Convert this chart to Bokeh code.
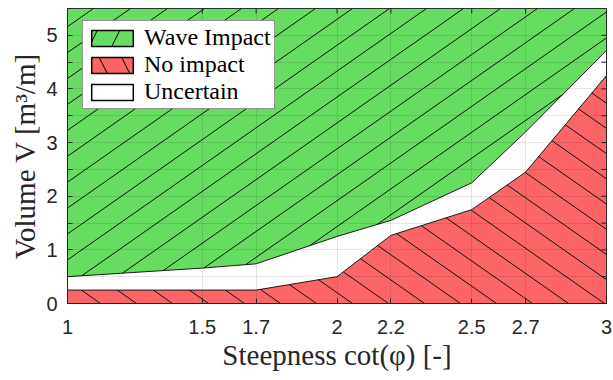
import math
import numpy as np
from bokeh.plotting import figure
from bokeh.models import FixedTicker, Range1d, Legend, LegendItem
from bokeh.embed import file_html
from bokeh.resources import INLINE

# ---------------- data ----------------
steepness = [1.0, 1.5, 1.7, 2.0, 2.2, 2.5, 2.7, 3.0]
impact_lower = [0.50, 0.66, 0.74, 1.25, 1.55, 2.25, 3.20, 4.72]     # lower edge of "Wave Impact"
noimpact_upper = [0.25, 0.25, 0.25, 0.50, 1.27, 1.75, 2.45, 4.25]   # upper edge of "No impact"
v_max = 5.5
x_ticks = [1.0, 1.5, 1.7, 2.0, 2.2, 2.5, 2.7, 3.0]
x_tick_labels = ["1", "1.5", "1.7", "2", "2.2", "2.5", "2.7", "3"]
y_ticks = [0, 1, 2, 3, 4, 5]
y_tick_labels = ["0", "1", "2", "3", "4", "5"]
y_minor_ticks = [0.5, 1.5, 2.5, 3.5, 4.5, 5.5]
series_names = ["Wave Impact", "No impact", "Uncertain"]

GREEN = "#66dc60"
RED = "#fc6565"
DARK = "#262626"
SERIF = "Liberation Serif"
SANS = "Liberation Sans"

W, H = 613, 380
BL, BR, BT, BB = 67, 7, 8, 77
FW, FH = W - BL - BR, H - BT - BB
x0, x1 = 1.0, 3.0
SX = FW / (x1 - x0)
SY = FH / v_max


def hatch_lines(px, py, rising, spacing=37.0, phase=0.0, angle=35.0):
    """Clip parallel lines (given screen angle) to a polygon given in data coords."""
    X = (np.asarray(px, dtype=float) - x0) * SX
    Y = np.asarray(py, dtype=float) * SY
    t = math.tan(math.radians(angle))
    slope = t if rising else -t          # screen slope, Y pointing up
    f = Y - slope * X
    step = spacing * t
    n = len(X)
    xs_out, ys_out = [], []
    k0 = math.ceil((f.min() - phase) / step)
    k1 = math.floor((f.max() - phase) / step)
    for k in range(k0, k1 + 1):
        b = phase + k * step
        pts = []
        for i in range(n):
            j = (i + 1) % n
            fi, fj = f[i] - b, f[j] - b
            if (fi < 0 <= fj) or (fj < 0 <= fi):
                s = fi / (fi - fj)
                pts.append((X[i] + s * (X[j] - X[i]), Y[i] + s * (Y[j] - Y[i])))
        pts.sort()
        for a in range(0, len(pts) - 1, 2):
            (xa, ya), (xb, yb) = pts[a], pts[a + 1]
            xs_out.append([xa / SX + x0, xb / SX + x0])
            ys_out.append([ya / SY, yb / SY])
    return xs_out, ys_out


p = figure(width=W, height=H, output_backend="svg", toolbar_location=None,
           x_range=Range1d(x0, x1), y_range=Range1d(0, v_max),
           min_border_left=BL, min_border_right=BR, min_border_top=BT, min_border_bottom=BB,
           background_fill_color="white", border_fill_color="white")
p.outline_line_color = DARK
p.outline_line_width = 1

# polygons
gx = steepness + [steepness[-1], steepness[0]]
gy = impact_lower + [v_max, v_max]
rx = steepness + [steepness[-1], steepness[0]]
ry = noimpact_upper + [0, 0]

p.patch(gx, gy, fill_color=GREEN, line_color="#1a1a1a", line_width=1)
p.patch(rx, ry, fill_color=RED, line_color="#1a1a1a", line_width=1)

ghx, ghy = hatch_lines(gx, gy, True, spacing=37.0, phase=276.8)
p.multi_line(ghx, ghy, line_color="#111111", line_width=1)
rhx, rhy = hatch_lines(rx, ry, False, spacing=36.0, phase=23.1)
p.multi_line(rhx, rhy, line_color="#111111", line_width=1)

# legend-only swatches (placed outside the visible range)
off_x = [-10.0, -9.0, -9.0]
off_y = [-10.0, -10.0, -9.0]
lg = p.patch(off_x, off_y, fill_color=GREEN, line_color="black", line_width=1.5,
             hatch_pattern="/", hatch_color="black", hatch_scale=45, hatch_weight=1)
lr = p.patch(off_x, off_y, fill_color=RED, line_color="black", line_width=1.5,
             hatch_pattern="\\", hatch_color="black", hatch_scale=45, hatch_weight=1)
lu = p.patch(off_x, off_y, fill_color="white", line_color="black", line_width=1.5)

legend = Legend(items=[LegendItem(label=series_names[0], renderers=[lg]),
                       LegendItem(label=series_names[1], renderers=[lr]),
                       LegendItem(label=series_names[2], renderers=[lu])],
                location=(15, 194))
legend.label_text_font = SERIF
legend.label_text_font_size = "24px"
legend.label_text_color = "black"
legend.glyph_width = 52
legend.glyph_height = 20
legend.label_height = 25
legend.spacing = 0
legend.padding = 3
legend.margin = 0
legend.label_standoff = 6
legend.border_line_color = DARK
legend.border_line_width = 1
legend.background_fill_alpha = 1.0
p.add_layout(legend)

# axes
xt = FixedTicker(ticks=x_ticks)
yt = FixedTicker(ticks=y_ticks, minor_ticks=y_minor_ticks)
xax = p.xaxis[0]
yax = p.yaxis[0]
xax.ticker = xt
yax.ticker = yt
xax.major_label_overrides = {t: l for t, l in zip(x_ticks, x_tick_labels)}
yax.major_label_overrides = {t: l for t, l in zip(y_ticks, y_tick_labels)}

for ax in (xax, yax):
    ax.axis_line_color = DARK
    ax.major_tick_line_color = DARK
    ax.minor_tick_line_color = DARK
    ax.major_tick_in = 5
    ax.major_tick_out = 0
    ax.minor_tick_in = 5
    ax.minor_tick_out = 0
    ax.major_label_text_font = SANS
    ax.major_label_text_font_size = "20px"
    ax.major_label_text_color = DARK
    ax.axis_label_text_font = SERIF
    ax.axis_label_text_font_style = "normal"
    ax.axis_label_text_font_size = "29px"
    ax.axis_label_text_color = DARK

xax.axis_label = "Steepness cot(φ) [-]"
yax.axis_label = "Volume V [m³/m]"
xax.major_label_standoff = 16
xax.axis_label_standoff = 2
yax.major_label_standoff = 10
yax.axis_label_standoff = 2

# mirrored inward ticks on the top and right edges (box on)
p.ray(x=x_ticks, y=[v_max] * len(x_ticks), length=5, length_units="screen",
      angle=-math.pi / 2, line_color=DARK, line_width=1)
yr = y_ticks + y_minor_ticks
p.ray(x=[x1] * len(yr), y=yr, length=5, length_units="screen",
      angle=math.pi, line_color=DARK, line_width=1)

# grid over the patches, faint
p.xgrid.ticker = xt
p.ygrid.ticker = yt
for g in (p.xgrid[0], p.ygrid[0]):
    g.grid_line_color = "black"
    g.grid_line_alpha = 0.1
    g.level = "annotation"
p.ygrid.minor_grid_line_color = "black"
p.ygrid.minor_grid_line_alpha = 0.1

open("out.html", "w").write(file_html(p, INLINE))
